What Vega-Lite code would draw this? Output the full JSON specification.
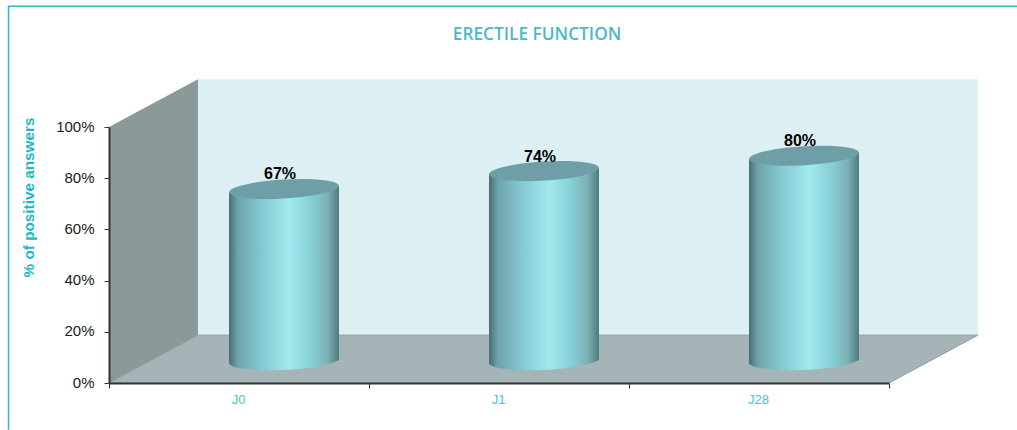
{
 "$schema":"https://vega.github.io/schema/vega-lite/v6.json",
 "width":780,"height":256,
 "autosize":{"type":"none"},
 "padding":{"left":109,"top":127,"right":128,"bottom":47},
 "background":"white",
 "config":{"view":{"stroke":null},"font":"Liberation Sans"},
 "title":{"text":"ERECTILE FUNCTION","font":"Open Sans","fontSize":17.3,"fontWeight":600,"color":"#4bb9c5","anchor":"middle","frame":"group","dx":38,"offset":-70},
 "datasets":{
  "answers":[{"visit":"J0","positive":67,"label":"67%"},{"visit":"J1","positive":74,"label":"74%"},{"visit":"J28","positive":80,"label":"80%"}],
  "backWall":[{"pos":0.342,"low":18.7,"high":118.7},{"pos":3.342,"low":18.7,"high":118.7}],
  "sideWall":[{"pos":0,"low":0,"high":100},{"pos":0.342,"low":18.7,"high":118.7}],
  "floor":[{"pos":0,"low":0,"high":0},{"pos":0.342,"low":0,"high":18.7},{"pos":3,"low":0,"high":18.7},{"pos":3.342,"low":18.7,"high":18.7}],
  "frame":[{"seq":1,"pos":3.4923,"pct":147.2},{"seq":2,"pos":-0.3865,"pct":147.2},{"seq":3,"pos":-0.3865,"pct":-18.3}],
  "cutoff":[{"glyph":"p","pos":0.415,"pct":152.5},{"glyph":"y","pos":1.725,"pct":152.5}]
 },
 "resolve":{"scale":{"x":"independent"}},
 "layer":[
  {
   "layer":[
    {"data":{"name":"backWall"},"mark":{"type":"area","orient":"vertical","color":"#dcf0f3"},
     "encoding":{"x":{"field":"pos","type":"quantitative"},"y":{"field":"low","type":"quantitative"},"y2":{"field":"high"}}},
    {"data":{"name":"sideWall"},"mark":{"type":"area","orient":"vertical","color":"#8b9999"},
     "encoding":{"x":{"field":"pos","type":"quantitative"},"y":{"field":"low","type":"quantitative"},"y2":{"field":"high"}}},
    {"data":{"name":"floor"},"mark":{"type":"area","orient":"vertical","color":"#a5b5b7","stroke":"#8f9d9d","strokeWidth":1},
     "encoding":{"x":{"field":"pos","type":"quantitative"},"y":{"field":"low","type":"quantitative"},"y2":{"field":"high"}}},
    {"data":{"name":"frame"},"mark":{"type":"line","color":"#2fb8c0","strokeWidth":1.5},
     "encoding":{"x":{"field":"pos","type":"quantitative"},"y":{"field":"pct","type":"quantitative"},"order":{"field":"seq"}}},
    {"data":{"name":"cutoff"},"mark":{"type":"text","color":"#1eb7c5","fontSize":24,"fontWeight":"bold","baseline":"alphabetic"},
     "encoding":{"x":{"field":"pos","type":"quantitative"},"y":{"field":"pct","type":"quantitative"},"text":{"field":"glyph"}}}
   ],
   "encoding":{
    "x":{"scale":{"domain":[0,3],"nice":false,"zero":false},"axis":null},
    "y":{"scale":{"domain":[0,100],"nice":false,"zero":false},
     "axis":{"title":"% of positive answers","titleColor":"#1eb7c5","titleFont":"Liberation Sans","titleFontSize":15.3,"titleFontWeight":"bold","titleAngle":-90,"titleAlign":"center","titleBaseline":"middle","titleX":-81,"titleY":70,"values":[0,20,40,60,80,100],"labelExpr":"datum.value + '%'","labelColor":"#1a1a1a","labelFont":"Liberation Sans","labelFontSize":15,"labelPadding":10,"labelOffset":-1,"tickColor":"#333333","tickSize":5,"domainColor":"#333333","domainWidth":2,"grid":false,"zindex":1}}
   }
  },
  {
   "data":{"name":"answers"},
   "encoding":{
    "x":{"field":"visit","type":"nominal","sort":null,"scale":{"paddingInner":0,"paddingOuter":0},
     "axis":{"title":null,"labelAngle":0,"tickBand":"extent","labelColor":"#3cc8d4","labelFont":"Liberation Sans","labelFontSize":13,"labelPadding":5,"labelOffset":-1,"tickColor":"#333333","tickSize":5,"domainColor":"#333333","domainWidth":2,"zindex":1,"grid":false}},
    "y":{"field":"positive","type":"quantitative","stack":null,"scale":{"domain":[0,100],"nice":false,"zero":false},
     "axis":{"title":"% of positive answers","titleColor":"#1eb7c5","titleFont":"Liberation Sans","titleFontSize":15.3,"titleFontWeight":"bold","titleAngle":-90,"titleAlign":"center","titleBaseline":"middle","titleX":-81,"titleY":70,"values":[0,20,40,60,80,100],"labelExpr":"datum.value + '%'","labelColor":"#1a1a1a","labelFont":"Liberation Sans","labelFontSize":15,"labelPadding":10,"labelOffset":-1,"tickColor":"#333333","tickSize":5,"domainColor":"#333333","domainWidth":2,"grid":false,"zindex":1}}
   },
   "layer":[
    {"mark":{"type":"point","filled":true,"opacity":1,"size":12100,"shape":"M-1,-0.3L1,-0.3L1,-0.045A1,0.173,-2.6,0,1,-1,0.045Z","xOffset":45,"yOffset":-22.5,
      "fill":{"gradient":"linear","x1":0,"y1":0,"x2":1,"y2":0,"stops":[{"offset":0,"color":"#476e74"},{"offset":0.08,"color":"#6fa3ab"},{"offset":0.3,"color":"#85c9d2"},{"offset":0.55,"color":"#a0e8ee"},{"offset":0.75,"color":"#86cfd6"},{"offset":0.9,"color":"#7bb0b5"},{"offset":1,"color":"#4f7a7e"}]}},
     "encoding":{"y":{"datum":0,"type":"quantitative"}}},
    {"mark":{"type":"bar","size":110,"xOffset":45,"yOffset":-12.5,"y2Offset":-22.5,
      "fill":{"gradient":"linear","x1":0,"y1":0,"x2":1,"y2":0,"stops":[{"offset":0,"color":"#476e74"},{"offset":0.08,"color":"#6fa3ab"},{"offset":0.3,"color":"#85c9d2"},{"offset":0.55,"color":"#a0e8ee"},{"offset":0.75,"color":"#86cfd6"},{"offset":0.9,"color":"#7bb0b5"},{"offset":1,"color":"#4f7a7e"}]}},
     "encoding":{"y2":{"datum":0}}},
    {"mark":{"type":"point","filled":true,"opacity":1,"size":12100,"shape":"M-1,0.06L-1,0.3L1,0.3L1,-0.06Z","xOffset":45,"yOffset":-22.5,
      "fill":{"gradient":"linear","x1":0,"y1":0,"x2":1,"y2":0,"stops":[{"offset":0,"color":"#476e74"},{"offset":0.08,"color":"#6fa3ab"},{"offset":0.3,"color":"#85c9d2"},{"offset":0.55,"color":"#a0e8ee"},{"offset":0.75,"color":"#86cfd6"},{"offset":0.9,"color":"#7bb0b5"},{"offset":1,"color":"#4f7a7e"}]}}},
    {"mark":{"type":"point","filled":true,"opacity":1,"size":12100,"shape":"M-1,0A1,0.173,0,1,1,1,0A1,0.173,0,1,1,-1,0Z","angle":-3.4,"xOffset":45,"yOffset":-22.5,"color":"#6f9fa6"}},
    {"mark":{"type":"text","font":"Liberation Sans","fontSize":16,"fontWeight":"bold","xOffset":41,"yOffset":-37,"baseline":"middle"},
     "encoding":{"text":{"field":"label"},"color":{"value":"#000000"}}}
   ]
  }
 ]
}
